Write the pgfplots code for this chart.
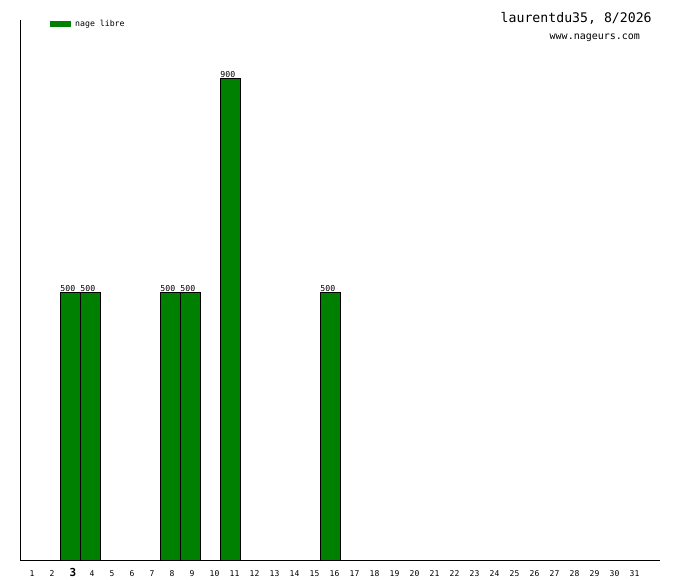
\documentclass[border=0pt]{standalone}
\usepackage{pgfplots}
\pgfplotsset{compat=1.18}
\usepackage{fontspec}
\setmainfont{DejaVu Sans Mono}
\setmonofont{DejaVu Sans Mono}
\definecolor{nage}{RGB}{0,128,0}
\begin{document}
\begin{tikzpicture}[x=1pt,y=1pt]
\path[use as bounding box, fill=white] (0,0) rectangle (680,580);
\begin{axis}[
  at={(20pt,20pt)}, anchor=south west,
  width=640pt, height=540pt, scale only axis,
  xmin=0.5, xmax=32.5, ymin=0, ymax=1010,
  /pgf/number format/assume math mode=true,
  axis x line*=bottom, axis y line*=left,
  axis line style={line width=0.8pt, black},
  ytick=\empty,
  xtick={1,...,31},
  xticklabels={1,2,{\fontsize{11}{11}\selectfont\bfseries 3},4,5,6,7,8,9,10,11,12,13,14,15,16,17,18,19,20,21,22,23,24,25,26,27,28,29,30,31},
  major tick length=0pt,
  xticklabel style={font=\fontsize{8}{8}\selectfont, anchor=base west, inner sep=0pt, yshift=-17pt, xshift=-0.5pt},
  ybar, bar width=20pt,
  nodes near coords,
  every node near coord/.append style={font=\fontsize{8.2}{8.2}\selectfont, anchor=base west, inner sep=0pt, xshift=-10pt, yshift=1pt, black},
  legend style={draw=none, fill=none, at={(rel axis cs:0.0469,1)}, anchor=north west, inner sep=0pt, font=\fontsize{8.2}{8.2}\selectfont, nodes={inner sep=0pt}},
]
\addplot[fill=nage, draw=black, line width=0.8pt, legend image code/.code={\fill[nage, draw=none] (0pt,-3.3pt) rectangle (21pt,3.3pt); \path[draw=none, fill=none] (0pt,0pt) -- (25pt,0pt);}]
  coordinates {(3,500) (4,500) (8,500) (9,500) (11,900) (16,500)};
\addlegendentry{nage libre}
\end{axis}
\node[anchor=base west, inner sep=0pt, font=\fontsize{13.2}{13.2}\selectfont] at (500.5,557) {laurentdu35, 8/2026};
\node[anchor=base west, inner sep=0pt, font=\fontsize{10}{10}\selectfont] at (549.5,540) {www.nageurs.com};
\end{tikzpicture}
\end{document}
